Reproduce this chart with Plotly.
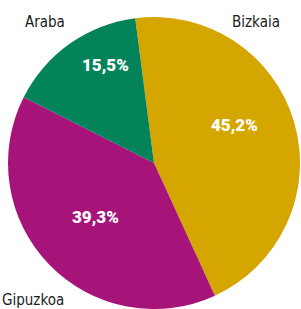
import plotly.graph_objects as go

labels = ["Bizkaia", "Gipuzkoa", "Araba"]
values = [45.2, 39.3, 15.5]
colors = ["#D6A600", "#A6147A", "#03835A"]

W, H = 301, 309

fig = go.Figure(go.Pie(
    labels=labels,
    values=values,
    sort=False,
    direction="clockwise",
    rotation=-7.4,
    marker=dict(colors=colors, line=dict(width=0)),
    textinfo="none",
    domain=dict(x=[8/W, 300/W], y=[0, 1 - 17/H]),
    showlegend=False,
    hoverinfo="none",
))

name_font = dict(family="DejaVu Sans Condensed, Liberation Sans Narrow, sans-serif", size=15, color="#1a1a1a")
pct_font = dict(family="Roboto", size=17, color="white", weight=900)

# outside names: (label index, x px, y px)
name_pos = [(2, 45, 22), (0, 256, 22), (1, 33, 300)]
for i, x, y in name_pos:
    fig.add_annotation(x=x/W, y=1 - y/H, xref="paper", yref="paper", text=labels[i],
                       showarrow=False, font=name_font, xanchor="center", yanchor="middle")

# percentage labels inside slices
pct_pos = [(0, 234, 125), (1, 95, 217), (2, 106, 65)]
for i, x, y in pct_pos:
    fig.add_annotation(x=x/W, y=1 - y/H, xref="paper", yref="paper",
                       text=f"{values[i]:.1f}%".replace(".", ","),
                       showarrow=False, font=pct_font, xanchor="center", yanchor="middle")

fig.update_layout(
    width=W, height=H,
    margin=dict(l=0, r=0, t=0, b=0),
    paper_bgcolor="white",
    separators=",.",
)
fig.write_html("out.html", config={"displayModeBar": False},
               post_script="document.body.style.margin='0';")
